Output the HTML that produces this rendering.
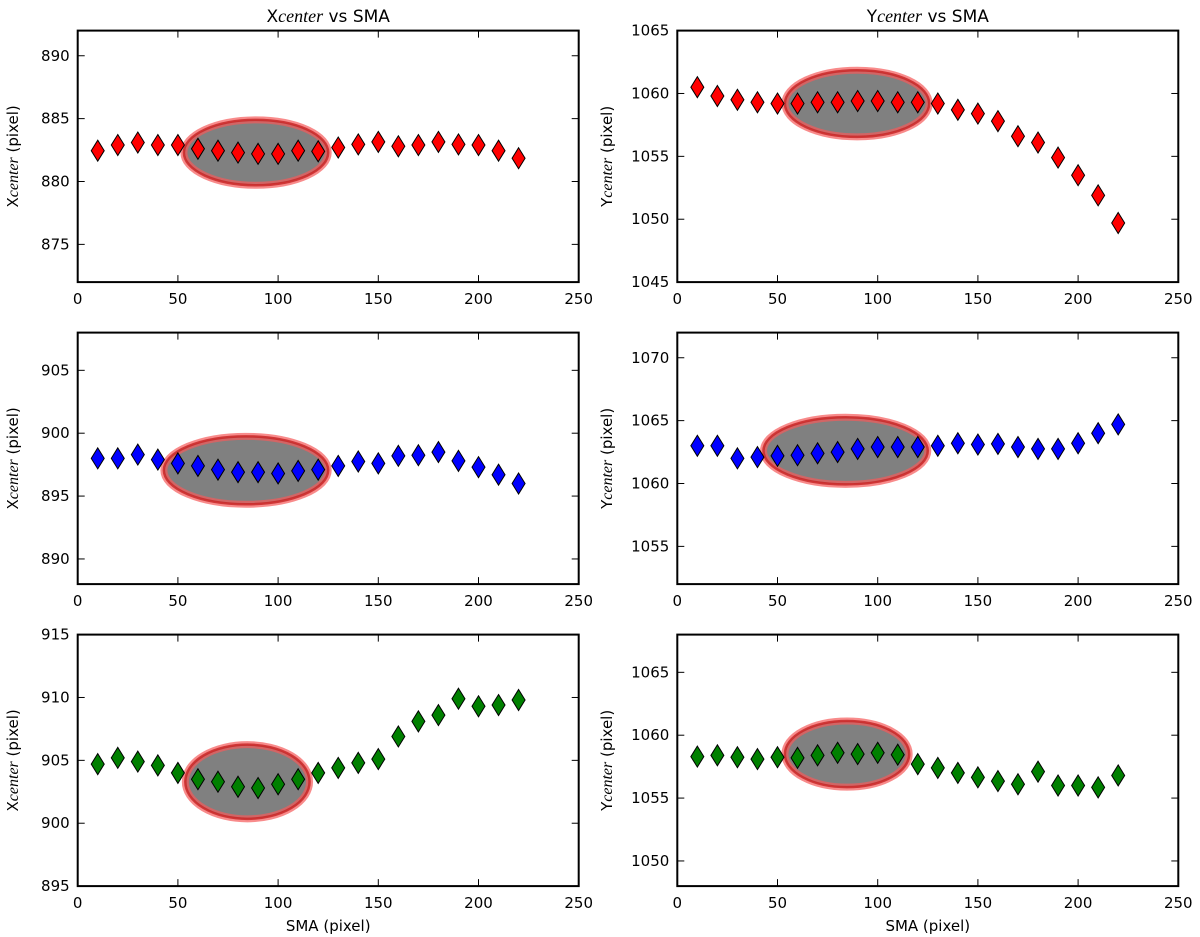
<!DOCTYPE html>
<html><head><meta charset="utf-8">
<style>
html,body{margin:0;padding:0;background:#fff;}
svg{display:block;font-family:"DejaVu Sans","Liberation Sans",sans-serif;}
</style></head>
<body>
<svg id="fig" width="1200" height="937" viewBox="0 0 1200 937" xmlns="http://www.w3.org/2000/svg"></svg>
<script>
const smaValues = [10,20,30,40,50,60,70,80,90,100,110,120,130,140,150,160,170,180,190,200,210,220];
const xTicks = [0,50,100,150,200,250];
const xcenterRed = [882.45,882.9,883.1,882.9,882.9,882.6,882.45,882.3,882.2,882.2,882.45,882.4,882.7,882.95,883.15,882.8,882.9,883.15,882.95,882.9,882.45,881.85];
const ycenterRed = [1060.5,1059.8,1059.5,1059.3,1059.2,1059.2,1059.3,1059.3,1059.4,1059.4,1059.3,1059.3,1059.2,1058.7,1058.4,1057.8,1056.6,1056.1,1054.9,1053.5,1051.9,1049.7];
const xcenterBlue = [898.0,898.0,898.3,897.9,897.6,897.4,897.1,896.9,896.9,896.8,897.0,897.1,897.4,897.75,897.6,898.2,898.25,898.5,897.8,897.3,896.7,896.0];
const ycenterBlue = [1063.0,1063.0,1062.0,1062.1,1062.2,1062.25,1062.4,1062.5,1062.75,1062.9,1062.9,1062.9,1063.0,1063.2,1063.1,1063.15,1062.9,1062.75,1062.75,1063.2,1064.0,1064.7];
const xcenterGreen = [904.7,905.2,904.9,904.6,904.0,903.5,903.3,902.9,902.8,903.1,903.5,904.0,904.4,904.8,905.1,906.9,908.1,908.6,909.9,909.3,909.4,909.8];
const ycenterGreen = [1058.3,1058.4,1058.25,1058.1,1058.25,1058.2,1058.4,1058.6,1058.5,1058.6,1058.45,1057.7,1057.4,1057.0,1056.65,1056.35,1056.1,1057.1,1056.0,1056.0,1055.85,1056.8];
const yRanges = [[872,892],[1045,1065],[888,908],[1052,1072],[895,915],[1048,1068]];
const yTicksA = [875,880,885,890];
const yTicksB = [1045,1050,1055,1060,1065];
const yTicksC = [890,895,900,905];
const yTicksD = [1055,1060,1065,1070];
const yTicksE = [895,900,905,910,915];
const yTicksF = [1050,1055,1060,1065];
// ellipse [cx, cy, semi-x, semi-y] in data units
const ellipseA = [89,882.3,36,2.6];
const ellipseB = [89.7,1059.2,36,2.65];
const ellipseC = [84,897.05,41,2.7];
const ellipseD = [84,1062.6,41,2.67];
const ellipseE = [84.7,903.3,31,2.95];
const ellipseF = [84.7,1058.5,31,2.63];

const NS="http://www.w3.org/2000/svg";
const svg=document.getElementById('fig');
function mk(tag,attrs,parent){const e=document.createElementNS(NS,tag);for(const k in attrs)e.setAttribute(k,attrs[k]);(parent||svg).appendChild(e);return e;}

const panels=[
 {col:0,row:0,vals:xcenterRed,color:'#ff0000',ticks:yTicksA,ell:ellipseA,lab:'X',name:'xcenter-red'},
 {col:1,row:0,vals:ycenterRed,color:'#ff0000',ticks:yTicksB,ell:ellipseB,lab:'Y',name:'ycenter-red'},
 {col:0,row:1,vals:xcenterBlue,color:'#0000ff',ticks:yTicksC,ell:ellipseC,lab:'X',name:'xcenter-blue'},
 {col:1,row:1,vals:ycenterBlue,color:'#0000ff',ticks:yTicksD,ell:ellipseD,lab:'Y',name:'ycenter-blue'},
 {col:0,row:2,vals:xcenterGreen,color:'#008000',ticks:yTicksE,ell:ellipseE,lab:'X',name:'xcenter-green'},
 {col:1,row:2,vals:ycenterGreen,color:'#008000',ticks:yTicksF,ell:ellipseF,lab:'Y',name:'ycenter-green'}
];
const W=501,H=251.5;
panels.forEach((p,i)=>{
  const L=p.col?677.3:77.7, T=30.6+p.row*302;
  const yr=yRanges[i];
  const sx=v=>L+(v-0)/250*W;
  const sy=v=>T+H-(v-yr[0])/(yr[1]-yr[0])*H;
  const g=mk('g',{});
  
  
  // ellipse
  const e=p.ell;
  const ecx=sx(e[0]),ecy=sy(e[1]),erx=e[2]/250*W,ery=e[3]/(yr[1]-yr[0])*H;
  const el1=mk('ellipse',{cx:ecx,cy:ecy,rx:erx,ry:ery,fill:'#808080',stroke:'rgba(245,90,90,0.7)','stroke-width':7},g);
  
  
  mk('ellipse',{cx:ecx,cy:ecy,rx:erx,ry:ery,fill:'none',stroke:'rgba(200,40,40,0.85)','stroke-width':2.5},g);
  // markers
  smaValues.forEach((x,j)=>{
    const cx=sx(x),cy=sy(p.vals[j]);
    const d=mk('polygon',{points:`${cx},${cy-10.5} ${cx+6.5},${cy} ${cx},${cy+10.5} ${cx-6.5},${cy}`,fill:p.color,stroke:'#000','stroke-width':1},g);
    
    
  });
  // frame
  const fr=mk('rect',{x:L,y:T,width:W,height:H,fill:'none',stroke:'#000','stroke-width':2},g);
  
  
  // x ticks
  xTicks.forEach(t=>{
    const x=sx(t);
    mk('line',{x1:x,y1:T,x2:x,y2:T+7,stroke:'#000','stroke-width':1},g);
    mk('line',{x1:x,y1:T+H,x2:x,y2:T+H-7,stroke:'#000','stroke-width':1},g);
    const tx=mk('text',{x:x,y:T+H+22,'text-anchor':'middle','font-size':15},g);
    tx.textContent=t;
    
    
  });
  p.ticks.forEach(t=>{
    const y=sy(t);
    mk('line',{x1:L,y1:y,x2:L+7,y2:y,stroke:'#000','stroke-width':1},g);
    mk('line',{x1:L+W,y1:y,x2:L+W-7,y2:y,stroke:'#000','stroke-width':1},g);
    const ty=mk('text',{x:L-8,y:y+5,'text-anchor':'end','font-size':15},g);
    ty.textContent=t;
    
    
  });
  // y label
  const lx=p.col?612:18, ly=T+H/2;
  const yl=mk('text',{x:lx,y:ly,'text-anchor':'middle','font-size':15,transform:`rotate(-90 ${lx} ${ly})`},g);
  yl.innerHTML=p.lab+'<tspan font-family="Liberation Serif, DejaVu Serif, serif" font-style="italic" font-size="16">center</tspan> (pixel)';
  
  
  if(p.row===0){
    const tt=mk('text',{x:L+W/2,y:22,'text-anchor':'middle','font-size':17},g);
    tt.innerHTML=p.lab+'<tspan font-family="Liberation Serif, DejaVu Serif, serif" font-style="italic" font-size="18">center</tspan> vs SMA';
    
    
  }
  if(p.row===2){
    const xl=mk('text',{x:L+W/2,y:931,'text-anchor':'middle','font-size':15},g);
    xl.textContent='SMA (pixel)';
    
    
  }
});
</script>
</body></html>
